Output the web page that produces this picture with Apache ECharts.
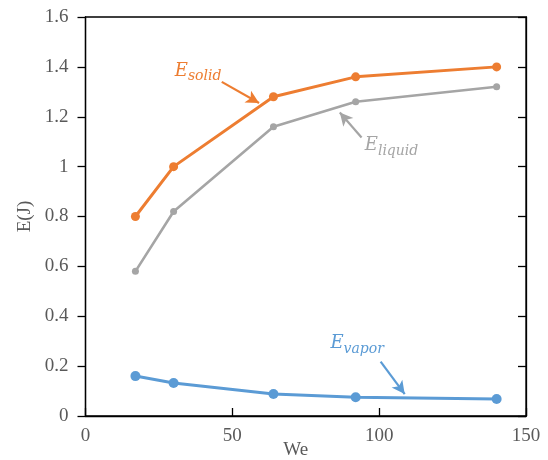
<!DOCTYPE html>
<html><head><meta charset="utf-8">
<script src="https://cdn.jsdelivr.net/npm/echarts@6/dist/echarts.min.js"></script>
<style>html,body{margin:0;padding:0;background:#fff}#c{width:548px;height:460px}</style>
</head><body><div id="c"></div>
<script>
const weValues = [17, 30, 64, 92, 140];
const eSolid = [0.80, 1.00, 1.28, 1.36, 1.40];
const eLiquid = [0.58, 0.82, 1.16, 1.26, 1.32];
const eVapor = [0.16, 0.132, 0.088, 0.075, 0.068];
const xTicks = [0, 50, 100, 150];
const yTicks = [0, 0.2, 0.4, 0.6, 0.8, 1, 1.2, 1.4, 1.6];
// annotations: label subscript, text anchor (We,E), arrow start, arrow tip
const annSolid = {sub:'solid', text:[30.4, 1.332], from:[46.4, 1.340], to:[59.1, 1.255]};
const annLiquid = {sub:'liquid', text:[95.1, 1.035], from:[94.0, 1.117], to:[86.6, 1.217]};
const annVapor = {sub:'vapor', text:[83.4, 0.239], from:[100.5, 0.218], to:[108.7, 0.088]};

const COL = {solid:'#ED7D31', liquid:'#A5A5A5', vapor:'#5B9BD5'};
const FONT = 'Liberation Serif';
const pair = (xs, ys) => xs.map((x, i) => [x, ys[i]]);

const chart = echarts.init(document.getElementById('c'), null, {renderer:'canvas'});
function arrowLine(a, color) {
  return {
    silent: true, symbol: ['none', 'arrow'], symbolSize: [10, 13],
    label: {show:false},
    lineStyle: {color, type:'solid', width: 2.2},
    data: [[{coord: a.from}, {coord: a.to}]]
  };
}
function series(name, ys, color, w, sz, ann) {
  return {
    name, type:'line', data: pair(weValues, ys), symbol:'circle', symbolSize: sz,
    itemStyle:{color}, lineStyle:{color, width:w}, z: 3,
    markLine: arrowLine(ann, color),
    animation:false
  };
}
const axisLbl = {color:'#595959', fontFamily:FONT, fontSize:19};
chart.setOption({
  animation:false,
  grid:{left:85.5, right:22, top:17, bottom:44, outerBoundsMode:'none', containLabel:false,
    show:true, borderColor:'#000', borderWidth:1.3, backgroundColor:'transparent'},
  xAxis:{type:'value', min:xTicks[0], max:xTicks[xTicks.length-1], interval:50,
    axisLine:{lineStyle:{color:'#000', width:1.3}},
    axisTick:{inside:true, length:8, lineStyle:{color:'#000', width:1.3}},
    axisLabel:Object.assign({margin:11, formatter:v=>xTicks.includes(v)?String(v):''}, axisLbl),
    splitLine:{show:false},
    name:'We', nameLocation:'middle', nameGap:25, nameMoveOverlap:false,
    nameTextStyle:{color:'#595959', fontFamily:FONT, fontSize:19, padding:[0,20,0,0]}
  },
  yAxis:[{type:'value', min:yTicks[0], max:yTicks[yTicks.length-1], interval:0.2,
    axisLine:{lineStyle:{color:'#000', width:1.3}},
    axisTick:{inside:false, length:8, lineStyle:{color:'#000', width:1.3}},
    axisLabel:Object.assign({margin:17, formatter:v=>String(Math.round(v*10)/10)}, axisLbl),
    splitLine:{show:false},
    name:'E(J)', nameLocation:'middle', nameGap:51, nameMoveOverlap:false,
    nameTextStyle:{color:'#595959', fontFamily:FONT, fontSize:19}
  },{type:'value', position:'right', min:yTicks[0], max:yTicks[yTicks.length-1], interval:0.2,
    axisLine:{show:true, lineStyle:{color:'#000', width:1.3}},
    axisTick:{inside:true, length:8, lineStyle:{color:'#000', width:1.3}},
    axisLabel:{show:false}, splitLine:{show:false}
  }],
  series:[
    series('liquid', eLiquid, COL.liquid, 2.6, 7, annLiquid),
    series('solid', eSolid, COL.solid, 3, 9, annSolid),
    series('vapor', eVapor, COL.vapor, 3, 10, annVapor)
  ]
});
function label(a, color) {
  const p = chart.convertToPixel({xAxisIndex:0, yAxisIndex:0}, a.text);
  return {type:'text', x:p[0], y:p[1], z:10,
    style:{text:'{e|E}{s|' + a.sub + '}', fill:color, align:'left', verticalAlign:'bottom',
      rich:{e:{fontFamily:'DejaVu Serif', fontStyle:'italic', fontSize:18, fill:color, verticalAlign:'bottom', padding:[0,0,4,0]},
            s:{fontFamily:'DejaVu Serif', fontStyle:'italic', fontSize:14, fill:color, verticalAlign:'bottom'}}}};
}
chart.setOption({graphic:[label(annSolid, COL.solid), label(annLiquid, COL.liquid), label(annVapor, COL.vapor)]});
</script></body></html>
